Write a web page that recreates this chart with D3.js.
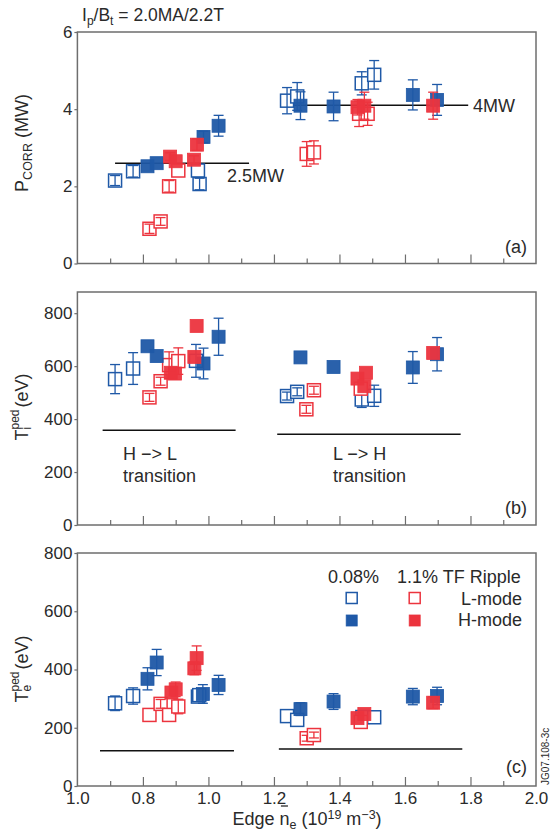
<!DOCTYPE html>
<html><head><meta charset="utf-8">
<script src="https://cdn.jsdelivr.net/npm/d3@7"></script>
<style>body{margin:0;background:#fff}svg{display:block;font-family:"Liberation Sans",Arial,sans-serif}</style>
</head><body><svg id="chart" width="550" height="832"></svg>
<script>
// ---------- DATA ----------
const xMajorTicks = [0.6, 0.8, 1.0, 1.2, 1.4, 1.6, 1.8, 2.0];
const xMajorLabels = ["1.0", "0.8", "1.0", "1.2", "1.4", "1.6", "1.8", "2.0"];
const xMinorTicks = [0.7, 0.9, 1.1, 1.3, 1.5, 1.7, 1.9];

// each point: [edge density, value, error]
// Panel (a) P_CORR (MW)
const aBlueL = [[0.715,2.15,0.13],[0.77,2.39,0.15],[0.968,2.41,0],[0.973,2.06,0.15],[1.24,4.22,0.34],[1.271,4.33,0.36],[1.468,4.67,0.3],[1.506,4.89,0.37]];
const aRedL  = [[0.82,0.9,0.12],[0.854,1.09,0.1],[0.88,2.0,0.15],[0.908,2.41,0],[1.30,2.84,0.32],[1.322,2.88,0.3],[1.46,3.88,0.33],[1.486,3.88,0.3]];
const aBlueH = [[0.814,2.52,0],[0.842,2.6,0],[0.985,3.28,0.15],[1.031,3.57,0.27],[1.281,4.09,0.36],[1.382,4.07,0.37],[1.624,4.37,0.39],[1.698,4.24,0.4]];
const aRedH  = [[0.883,2.77,0.1],[0.90,2.65,0],[0.956,2.69,0.1],[0.965,3.08,0.15],[1.455,4.05,0.2],[1.476,4.09,0.35],[1.686,4.09,0.35]];
const aLines = [[0.715,1.124,2.6],[1.234,1.793,4.1]];

// Panel (b) T_i^ped (eV)
const bBlueL = [[0.715,551,55],[0.77,591,60],[0.962,620,62],[1.24,487,15],[1.271,503,15],[1.468,474,30],[1.506,488,40]];
const bRedL  = [[0.82,482,15],[0.854,543,15],[0.88,604,50],[0.908,619,50],[1.299,437,15],[1.322,509,15],[1.465,515,0]];
const bBlueH = [[0.814,675,0],[0.842,638,0],[0.985,610,58],[1.031,711,70],[1.281,633,0],[1.382,597,0],[1.624,595,60],[1.698,645,63]];
const bRedH  = [[0.885,575,0],[0.898,572,0],[0.957,635,0],[0.964,752,0],[1.455,553,0],[1.476,524,0],[1.481,575,0],[1.686,650,0]];
const bLines = [[0.677,1.083,358],[1.210,1.770,343]];

// Panel (c) T_e^ped (eV)
const cBlueL = [[0.715,284,25],[0.77,309,28],[0.968,307,0],[0.972,312,0],[1.24,240,0],[1.271,227,0],[1.47,237,0],[1.506,236,0]];
const cRedL  = [[0.82,244,0],[0.854,282,15],[0.88,244,0],[0.908,273,25],[1.30,164,10],[1.322,175,10],[1.465,220,0]];
const cBlueH = [[0.814,368,38],[0.842,424,45],[0.983,316,32],[1.031,347,33],[1.281,264,22],[1.382,290,27],[1.624,307,28],[1.698,309,30]];
const cRedH  = [[0.887,321,0],[0.90,332,25],[0.957,404,22],[0.964,439,42],[1.455,233,0],[1.476,247,0],[1.686,286,20]];
const cLines = [[0.669,1.078,121],[1.215,1.775,127]];

const yTicksA = [0, 2, 4, 6];
const yTicksB = [0, 200, 400, 600, 800];
const yTicksC = [0, 200, 400, 600, 800];

// ---------- DRAW ----------
const BLUE = "#1f59a7", RED = "#ec343e", FRAME = "#6e6e6e", TXT = "#2a2a2a";
const svg = d3.select("#chart");
const x = d3.scaleLinear().domain([0.6, 2.0]).range([77.4, 536]);

const panels = [
  {top: 32, bottom: 263.5, domain: [0, 6], ticks: yTicksA, series: [aBlueL, aRedL, aBlueH, aRedH], lines: aLines, tag: "(a)", tagY: 253},
  {top: 292, bottom: 525, domain: [0, 880], ticks: yTicksB, series: [bBlueL, bRedL, bBlueH, bRedH], lines: bLines, tag: "(b)", tagY: 514},
  {top: 553, bottom: 786, domain: [0, 800], ticks: yTicksC, series: [cBlueL, cRedL, cBlueH, cRedH], lines: cLines, tag: "(c)", tagY: 773}
];
const styles = [{c: BLUE, f: false}, {c: RED, f: false}, {c: BLUE, f: true}, {c: RED, f: true}];
const S = 13;

panels.forEach((p, pi) => {
  const y = d3.scaleLinear().domain(p.domain).range([p.bottom, p.top]);
  p.y = y;
  const g = svg.append("g");
  // frame
  g.append("rect").attr("x", x.range()[0]).attr("y", p.top)
    .attr("width", x.range()[1] - x.range()[0]).attr("height", p.bottom - p.top)
    .attr("fill", "none").attr("stroke", FRAME).attr("stroke-width", 1.5);
  // y axis
  const ya = d3.axisLeft(y).tickValues(p.ticks).tickSize(3).tickPadding(2).tickFormat(d3.format("d"));
  const yg = g.append("g").attr("transform", `translate(${x.range()[0]},0)`).call(ya);
  yg.select(".domain").remove();
  yg.selectAll("line").attr("stroke", FRAME).attr("stroke-width", 1.2);
  yg.selectAll("text").attr("font-size", 17).attr("fill", TXT).attr("font-family", "Liberation Sans, Arial, sans-serif");
  // x axis ticks (inward)
  const xaMaj = d3.axisTop(x).tickValues(xMajorTicks.slice(1, -1)).tickSize(9).tickFormat("");
  const xaMin = d3.axisTop(x).tickValues(xMinorTicks).tickSize(5).tickFormat("");
  [xaMaj, xaMin].forEach(ax => {
    const xg = g.append("g").attr("transform", `translate(0,${p.bottom})`).call(ax);
    xg.select(".domain").remove();
    xg.selectAll("line").attr("stroke", FRAME).attr("stroke-width", 1.2);
  });
  if (pi === 2) {
    const xl = d3.axisBottom(x).tickValues(xMajorTicks).tickSize(0).tickPadding(6)
      .tickFormat((d, i) => xMajorLabels[i]);
    const xg = g.append("g").attr("transform", `translate(0,${p.bottom})`).call(xl);
    xg.select(".domain").remove();
    xg.selectAll("text").attr("font-size", 17).attr("fill", TXT).attr("font-family", "Liberation Sans, Arial, sans-serif");
  }
  // reference lines
  g.selectAll("line.ref").data(p.lines).enter().append("line").attr("class", "ref")
    .attr("x1", d => x(d[0])).attr("x2", d => x(d[1]))
    .attr("y1", d => y(d[2])).attr("y2", d => y(d[2]))
    .attr("stroke", "#111").attr("stroke-width", 1.6);
  // points
  p.series.forEach((ser, si) => {
    const st = styles[si];
    const pts = g.append("g").selectAll("g").data(ser).enter().append("g")
      .attr("transform", d => `translate(${x(d[0])},${y(d[1])})`);
    pts.append("rect").attr("x", -S / 2).attr("y", -S / 2).attr("width", S).attr("height", S)
      .attr("fill", st.f ? st.c : "#fff").attr("stroke", st.c).attr("stroke-width", st.f ? 0.8 : 1.5)
      .attr("fill-opacity", st.f ? 0.95 : 1);
    const eb = pts.filter(d => d[2] > 0);
    eb.append("line").attr("x1", 0).attr("x2", 0)
      .attr("y1", d => y(d[1] + d[2]) - y(d[1])).attr("y2", d => y(d[1] - d[2]) - y(d[1]))
      .attr("stroke", st.c).attr("stroke-width", 1.3);
    [1, -1].forEach(sgn => {
      eb.append("line").attr("x1", -5).attr("x2", 5)
        .attr("y1", d => y(d[1] + sgn * d[2]) - y(d[1])).attr("y2", d => y(d[1] + sgn * d[2]) - y(d[1]))
        .attr("stroke", st.c).attr("stroke-width", 1.3);
    });
  });
  // panel tag
  g.append("text").attr("x", 527).attr("y", p.tagY).attr("text-anchor", "end")
    .attr("font-size", 18).attr("fill", TXT).text(p.tag);
});

// annotations
const T = (xx, yy, s, anchor, size) => svg.append("text").attr("x", xx).attr("y", yy)
  .attr("text-anchor", anchor || "start").attr("font-size", size || 18).attr("fill", TXT).text(s);
T(227, 181.5, "2.5MW");
T(473, 111.5, "4MW");
T(123, 460, "H \u2212> L");
T(123, 481.5, "transition");
T(333, 460, "L \u2212> H");
T(333, 481.5, "transition");

// title
const title = svg.append("text").attr("x", 82).attr("y", 20.5).attr("font-size", 17.5).attr("fill", TXT);
title.append("tspan").text("I");
title.append("tspan").attr("font-size", 12).attr("dy", 4).text("p");
title.append("tspan").attr("dy", -4).text("/B");
title.append("tspan").attr("font-size", 12).attr("dy", 4).text("t");
title.append("tspan").attr("dy", -4).text(" = 2.0MA/2.2T");

// y labels
const yl1 = svg.append("text").attr("transform", "translate(28,143) rotate(-90)")
  .attr("text-anchor", "middle").attr("font-size", 18).attr("fill", TXT);
yl1.append("tspan").text("P");
yl1.append("tspan").attr("font-size", 12.5).attr("dy", 4).text("CORR");
yl1.append("tspan").attr("dy", -4).text(" (MW)");

function pedLabel(cy, sub, subW) {
  const t = svg.append("text").attr("transform", `translate(28,${cy}) rotate(-90)`)
    .attr("text-anchor", "middle").attr("font-size", 18).attr("fill", TXT);
  t.append("tspan").text("T");
  t.append("tspan").attr("font-size", 12).attr("dy", 3).text(sub);
  t.append("tspan").attr("font-size", 12).attr("dx", -subW).attr("dy", -12).text("ped");
  t.append("tspan").attr("dy", 9).attr("dx", 2).text("(eV)");
}
pedLabel(407, "i", 2.7);
pedLabel(669, "e", 6.7);

// x label
const xl = svg.append("text").attr("x", 307).attr("y", 825).attr("text-anchor", "middle")
  .attr("font-size", 18).attr("fill", TXT);
xl.append("tspan").text("Edge n");
xl.append("tspan").attr("font-size", 12.5).attr("dy", 4).text("e");
xl.append("tspan").attr("dy", -4).text(" (10");
xl.append("tspan").attr("font-size", 12.5).attr("dy", -6).text("19");
xl.append("tspan").attr("dy", 6).text(" m");
xl.append("tspan").attr("font-size", 12.5).attr("dy", -6).text("\u22123");
xl.append("tspan").attr("dy", 6).text(")");
// macron over n
const ext = xl.node().getExtentOfChar(5);
svg.append("line").attr("x1", ext.x + 1.5).attr("x2", ext.x + ext.width - 1.5)
  .attr("y1", 806).attr("y2", 806).attr("stroke", TXT).attr("stroke-width", 1.3);

// legend
T(328, 582.5, "0.08%");
T(397, 582.5, "1.1% TF Ripple");
T(522, 605, "L-mode", "end");
T(522, 626, "H-mode", "end");
const LS = 11;
const legendItems = [[351.7, 598, BLUE, false], [414.7, 598, RED, false], [351.7, 620.5, BLUE, true], [414.7, 620.5, RED, true]];
svg.append("g").selectAll("rect").data(legendItems).enter().append("rect")
  .attr("x", d => d[0] - LS / 2).attr("y", d => d[1] - LS / 2).attr("width", LS).attr("height", LS)
  .attr("fill", d => d[3] ? d[2] : "#fff").attr("stroke", d => d[2]).attr("stroke-width", d => d[3] ? 0.8 : 1.5);

// figure code
svg.append("text").attr("transform", "translate(549,785) rotate(-90)").attr("font-size", 10)
  .attr("fill", TXT).text("JG07.108-3c");
</script></body></html>
